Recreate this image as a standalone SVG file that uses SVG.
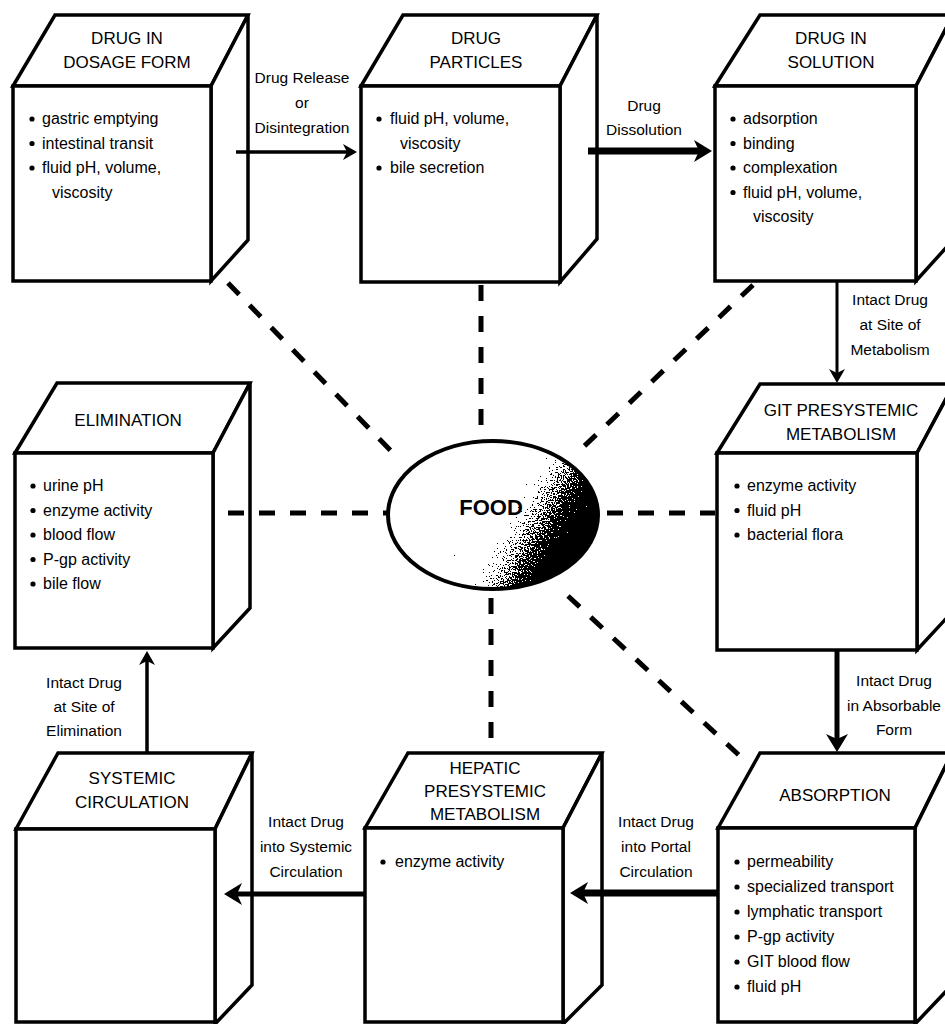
<svg xmlns="http://www.w3.org/2000/svg" width="945" height="1024" viewBox="0 0 945 1024">
<defs>
<style>
.box{fill:#fff;stroke:#000;stroke-width:3.5;stroke-linejoin:miter}
text{font-family:"Liberation Sans",Arial,sans-serif;fill:#000}
.t{font-size:17px;text-anchor:middle}
.i{font-size:16px}
.l{font-size:15.5px;text-anchor:middle}
.dot{fill:#000}
.dash{fill:none;stroke:#000;stroke-width:5;stroke-dasharray:16 15}
.arr{fill:none;stroke:#000}
</style>
<marker id="ah" viewBox="0 0 14 16" refX="5" refY="8" markerWidth="14" markerHeight="16" markerUnits="userSpaceOnUse" orient="auto"><path d="M0,0 L14,8 L0,16 L4,8 Z" fill="#000"/></marker>
<marker id="ahb" viewBox="0 0 18 22" refX="7" refY="11" markerWidth="18" markerHeight="22" markerUnits="userSpaceOnUse" orient="auto"><path d="M0,0 L18,11 L0,22 L5,11 Z" fill="#000"/></marker>
<linearGradient id="shade" gradientUnits="userSpaceOnUse" x1="510" y1="495" x2="578" y2="534"><stop offset="0" stop-color="#000" stop-opacity="0"/><stop offset="1" stop-color="#000" stop-opacity="1"/></linearGradient>
<filter id="stipple" x="380" y="435" width="230" height="165" filterUnits="userSpaceOnUse" color-interpolation-filters="sRGB">
<feTurbulence type="fractalNoise" baseFrequency="0.65" numOctaves="2" seed="7" result="noise"/>
<feColorMatrix in="noise" type="matrix" values="0 0 0 0 0  0 0 0 0 0  0 0 0 0 0  1.3 0 0 0 -0.15" result="na"/>
<feComposite in="SourceGraphic" in2="na" operator="arithmetic" k1="0" k2="1" k3="1" k4="-0.5" result="sum"/>
<feComponentTransfer in="sum"><feFuncA type="discrete" tableValues="0 1"/></feComponentTransfer>
</filter>
<clipPath id="foodclip"><ellipse cx="493" cy="515" rx="105" ry="74"/></clipPath>
</defs>
<rect width="945" height="1024" fill="#fff"/>

<g id="drug-dosage-form">
<path class="box" d="M13,86 L55,15 L248,15 L211,86 Z"/>
<path class="box" d="M211,86 L248,15 L248,240 L211,281 Z"/>
<rect class="box" x="13" y="86" width="198" height="195"/>
<text class="t" x="127" y="44">DRUG IN</text>
<text class="t" x="127" y="68">DOSAGE FORM</text>
<circle class="dot" cx="32" cy="119" r="2.6"/><text class="i" x="42" y="124">gastric emptying</text>
<circle class="dot" cx="32" cy="143.5" r="2.6"/><text class="i" x="42" y="148.5">intestinal transit</text>
<circle class="dot" cx="32" cy="168" r="2.6"/><text class="i" x="42" y="173">fluid pH, volume,</text>
<text class="i" x="52" y="197.5">viscosity</text>
</g>

<g id="drug-particles">
<path class="box" d="M361,86 L403,15 L597,15 L560,86 Z"/>
<path class="box" d="M560,86 L597,15 L597,239 L560,282 Z"/>
<rect class="box" x="361" y="86" width="199" height="196"/>
<text class="t" x="476" y="44">DRUG</text>
<text class="t" x="476" y="68">PARTICLES</text>
<circle class="dot" cx="379" cy="119" r="2.6"/><text class="i" x="390" y="124">fluid pH, volume,</text>
<text class="i" x="400" y="148.5">viscosity</text>
<circle class="dot" cx="379" cy="168" r="2.6"/><text class="i" x="390" y="173">bile secretion</text>
</g>

<g id="drug-in-solution">
<path class="box" d="M715,86 L760,15 L953,15 L916,86 Z"/>
<path class="box" d="M916,86 L953,15 L953,240 L916,281 Z"/>
<rect class="box" x="715" y="86" width="201" height="195"/>
<text class="t" x="831" y="44">DRUG IN</text>
<text class="t" x="831" y="68">SOLUTION</text>
<circle class="dot" cx="733" cy="119" r="2.6"/><text class="i" x="743" y="124">adsorption</text>
<circle class="dot" cx="733" cy="143.5" r="2.6"/><text class="i" x="743" y="148.5">binding</text>
<circle class="dot" cx="733" cy="168" r="2.6"/><text class="i" x="743" y="173">complexation</text>
<circle class="dot" cx="733" cy="192.5" r="2.6"/><text class="i" x="743" y="197.5">fluid pH, volume,</text>
<text class="i" x="753" y="222">viscosity</text>
</g>

<g id="elimination">
<path class="box" d="M15,453 L57,383 L250,383 L213,453 Z"/>
<path class="box" d="M213,453 L250,383 L250,608 L213,648 Z"/>
<rect class="box" x="15" y="453" width="198" height="195"/>
<text class="t" x="128" y="426">ELIMINATION</text>
<circle class="dot" cx="33" cy="486" r="2.6"/><text class="i" x="43" y="491">urine pH</text>
<circle class="dot" cx="33" cy="510.5" r="2.6"/><text class="i" x="43" y="515.5">enzyme activity</text>
<circle class="dot" cx="33" cy="535" r="2.6"/><text class="i" x="43" y="540">blood flow</text>
<circle class="dot" cx="33" cy="559.5" r="2.6"/><text class="i" x="43" y="564.5">P-gp activity</text>
<circle class="dot" cx="33" cy="584" r="2.6"/><text class="i" x="43" y="589">bile flow</text>
</g>

<g id="git-presystemic-metabolism">
<path class="box" d="M717,453 L760,384 L954,384 L917,453 Z"/>
<path class="box" d="M917,453 L954,384 L954,610 L917,650 Z"/>
<rect class="box" x="717" y="453" width="200" height="197"/>
<text class="t" x="841" y="416">GIT PRESYSTEMIC</text>
<text class="t" x="841" y="440">METABOLISM</text>
<circle class="dot" cx="737" cy="486" r="2.6"/><text class="i" x="747" y="491">enzyme activity</text>
<circle class="dot" cx="737" cy="510.5" r="2.6"/><text class="i" x="747" y="515.5">fluid pH</text>
<circle class="dot" cx="737" cy="535" r="2.6"/><text class="i" x="747" y="540">bacterial flora</text>
</g>

<g id="systemic-circulation">
<path class="box" d="M16,829 L58,753 L252,753 L215,829 Z"/>
<path class="box" d="M215,829 L252,753 L252,985 L215,1024 Z"/>
<rect class="box" x="16" y="829" width="199" height="193"/>
<text class="t" x="132" y="784">SYSTEMIC</text>
<text class="t" x="132" y="808">CIRCULATION</text>
</g>

<g id="hepatic-presystemic-metabolism">
<path class="box" d="M365,828 L408,753 L602,753 L563,828 Z"/>
<path class="box" d="M563,828 L602,753 L602,985 L563,1024 Z"/>
<rect class="box" x="365" y="828" width="198" height="194"/>
<text class="t" x="485" y="774">HEPATIC</text>
<text class="t" x="485" y="797">PRESYSTEMIC</text>
<text class="t" x="485" y="820">METABOLISM</text>
<circle class="dot" cx="383" cy="862" r="2.6"/><text class="i" x="395" y="867">enzyme activity</text>
</g>

<g id="absorption">
<path class="box" d="M718,828 L760,753 L952,753 L915,828 Z"/>
<path class="box" d="M915,828 L952,753 L952,985 L915,1024 Z"/>
<rect class="box" x="718" y="828" width="197" height="194"/>
<text class="t" x="835" y="801">ABSORPTION</text>
<circle class="dot" cx="737" cy="862" r="2.6"/><text class="i" x="747" y="867">permeability</text>
<circle class="dot" cx="737" cy="887" r="2.6"/><text class="i" x="747" y="892">specialized transport</text>
<circle class="dot" cx="737" cy="912" r="2.6"/><text class="i" x="747" y="917">lymphatic transport</text>
<circle class="dot" cx="737" cy="937" r="2.6"/><text class="i" x="747" y="942">P-gp activity</text>
<circle class="dot" cx="737" cy="962" r="2.6"/><text class="i" x="747" y="967">GIT blood flow</text>
<circle class="dot" cx="737" cy="987" r="2.6"/><text class="i" x="747" y="992">fluid pH</text>
</g>

<g id="connectors">
<line class="dash" x1="228" y1="283" x2="395" y2="455"/>
<line class="dash" x1="481" y1="285" x2="481" y2="440"/>
<line class="dash" x1="753" y1="285" x2="575" y2="455"/>
<line class="dash" x1="228" y1="513" x2="388" y2="513"/>
<line class="dash" x1="607" y1="513" x2="715" y2="513"/>
<line class="dash" x1="491" y1="598" x2="491" y2="740"/>
<line class="dash" x1="568" y1="596" x2="742" y2="758"/>

<line class="arr" stroke-width="3.5" x1="236" y1="152" x2="348" y2="152" marker-end="url(#ah)"/>
<line class="arr" stroke-width="7" x1="588" y1="151" x2="701" y2="151" marker-end="url(#ahb)"/>
<line class="arr" stroke-width="3" x1="837" y1="282" x2="837" y2="374" marker-end="url(#ah)"/>
<line class="arr" stroke-width="5" x1="837" y1="651" x2="837" y2="741" marker-end="url(#ahb)"/>
<line class="arr" stroke-width="7" x1="718" y1="893" x2="581" y2="893" marker-end="url(#ahb)"/>
<line class="arr" stroke-width="5" x1="365" y1="894" x2="235" y2="894" marker-end="url(#ahb)"/>
<line class="arr" stroke-width="3.5" x1="147" y1="753" x2="147" y2="660" marker-end="url(#ah)"/>

<text class="l" x="302" y="83">Drug Release</text>
<text class="l" x="302" y="108">or</text>
<text class="l" x="302" y="133">Disintegration</text>
<text class="l" x="644" y="111">Drug</text>
<text class="l" x="644" y="135">Dissolution</text>
<text class="l" x="890" y="305">Intact Drug</text>
<text class="l" x="890" y="330">at Site of</text>
<text class="l" x="890" y="355">Metabolism</text>
<text class="l" x="894" y="686">Intact Drug</text>
<text class="l" x="894" y="711">in Absorbable</text>
<text class="l" x="894" y="735">Form</text>
<text class="l" x="656" y="827">Intact Drug</text>
<text class="l" x="656" y="852">into Portal</text>
<text class="l" x="656" y="877">Circulation</text>
<text class="l" x="306" y="827">Intact Drug</text>
<text class="l" x="306" y="852">into Systemic</text>
<text class="l" x="306" y="877">Circulation</text>
<text class="l" x="84" y="688">Intact Drug</text>
<text class="l" x="84" y="712">at Site of</text>
<text class="l" x="84" y="736">Elimination</text>
</g>

<g id="food">
<ellipse cx="493" cy="515" rx="105" ry="74" fill="#fff"/>
<g clip-path="url(#foodclip)">
<rect x="385" y="438" width="220" height="155" fill="url(#shade)" filter="url(#stipple)"/>
</g>
<ellipse cx="493" cy="515" rx="105" ry="74" fill="none" stroke="#000" stroke-width="4"/>
<text x="491" y="515" font-size="22" font-weight="bold" text-anchor="middle">FOOD</text>
</g>
</svg>
